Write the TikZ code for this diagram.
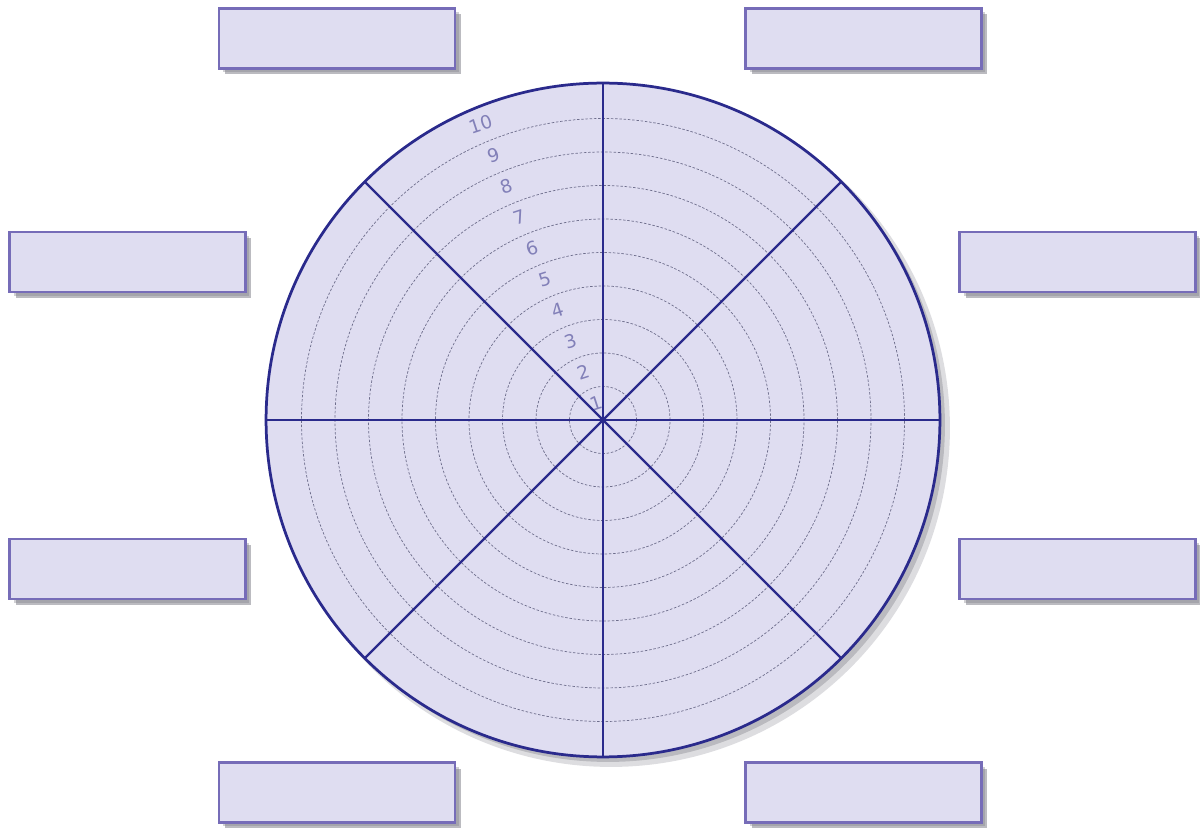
\documentclass[tikz,border=0pt]{standalone}
\usepackage{fontspec}
\usetikzlibrary{calc}
\newfontfamily\lblfont{DejaVu Sans}
\definecolor{fillc}{RGB}{223,221,241}
\definecolor{boxline}{RGB}{118,108,184}
\definecolor{wheelline}{RGB}{42,42,140}
\definecolor{ringc}{RGB}{110,110,140}
\definecolor{lblc}{RGB}{130,128,184}
\definecolor{shadowc}{RGB}{120,120,130}
\tikzset{
  labelbox/.style={draw=boxline, fill=fillc, line width=0.045cm, minimum width=4.72cm, minimum height=1.2cm, inner sep=0pt,
    preaction={fill=shadowc, fill opacity=0.35, transform canvas={shift={(0.08cm,-0.08cm)}}},
    preaction={fill=shadowc, fill opacity=0.5, transform canvas={shift={(0.12cm,-0.12cm)}}}},
  ring/.style={draw=ringc, line width=0.4pt, dash pattern=on 0.05cm off 0.035cm},
  spoke/.style={draw=wheelline, line width=0.045cm},
  ringlabel/.style={text=lblc, font=\lblfont\fontsize{10.5}{11}\selectfont, rotate=18, inner sep=0pt}
}
\begin{document}
\begin{tikzpicture}[x=0.02cm,y=-0.02cm]
\useasboundingbox (0,0) rectangle (1200,830);
\coordinate (c) at (603,420);
% wheel shadow
\fill[shadowc, opacity=0.25] ($(c)+(8,8)$) circle (6.78cm);
\fill[shadowc, opacity=0.35] ($(c)+(5,5)$) circle (6.74cm);
% wheel
\fill[fillc] (c) circle (6.74cm);
\foreach \k in {1,...,9} {
  \draw[ring] (c) circle ({0.02*33.5*\k cm});
}
\foreach \k in {1,...,10} {
  \node[ringlabel] (lbl\k) at ($(c)+(112.5:{(33.5*\k-15)*0.02cm})$) {\k};
}
\foreach \a in {0,45,...,315} {
  \coordinate (e\a) at ($(c)+(\a:6.74cm)$);
  \draw[spoke] (c) -- (e\a);
}
\draw[draw=wheelline, line width=0.055cm] (c) circle (6.74cm);
% boxes
\node[labelbox] (tl) at (337,38.5) {};
\node[labelbox] (tr) at (863.5,38.5) {};
\node[labelbox] (ul) at (127.5,262) {};
\node[labelbox] (ur) at (1077.5,262) {};
\node[labelbox] (ll) at (127.5,569) {};
\node[labelbox] (lr) at (1077.5,569) {};
\node[labelbox] (bl) at (337,792.5) {};
\node[labelbox] (br) at (863.5,792.5) {};
\end{tikzpicture}
\end{document}
